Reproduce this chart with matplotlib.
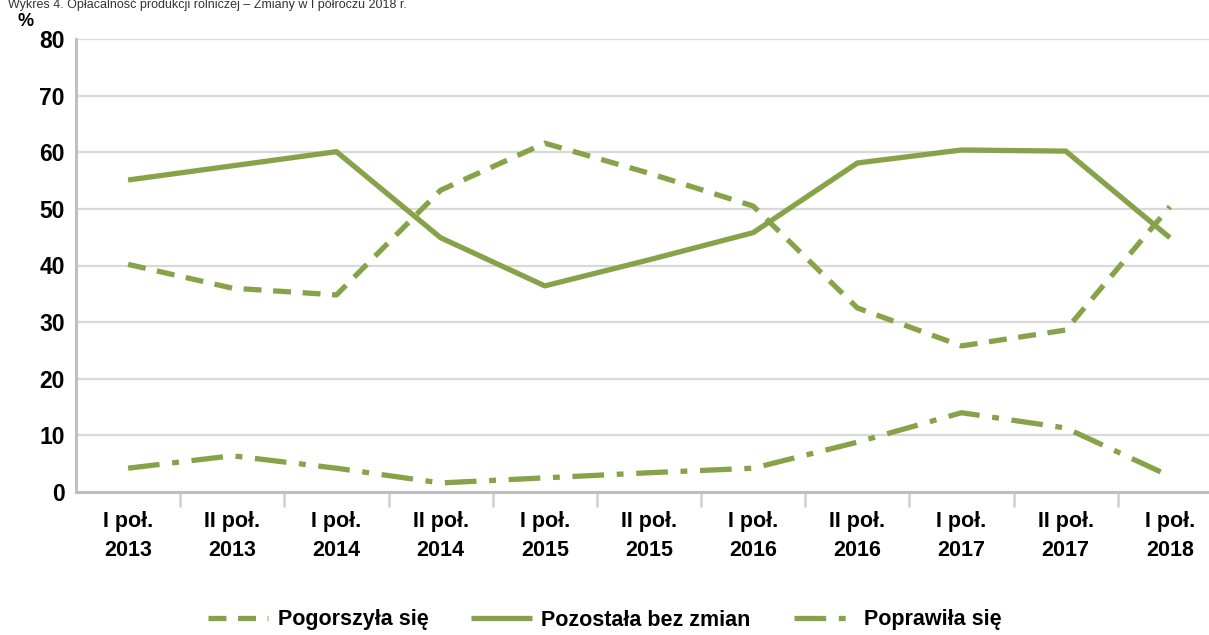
import matplotlib
matplotlib.use('Agg')
import matplotlib.pyplot as plt

# dane
okresy = ['I poł.\n2013', 'II poł.\n2013', 'I poł.\n2014', 'II poł.\n2014', 'I poł.\n2015',
          'II poł.\n2015', 'I poł.\n2016', 'II poł.\n2016', 'I poł.\n2017', 'II poł.\n2017',
          'I poł.\n2018']
pogorszyla = [40.2, 36.0, 34.8, 53.3, 61.6, 56.3, 50.5, 32.5, 25.8, 28.6, 50.4]
bez_zmian = [55.1, 57.6, 60.1, 44.9, 36.4, 41.0, 45.8, 58.1, 60.4, 60.2, 44.9]
poprawila = [4.2, 6.4, 4.2, 1.6, 2.5, 3.4, 4.2, 8.8, 14.0, 11.3, 2.8]

plt.rcParams['font.family'] = ['Liberation Sans Narrow', 'Liberation Sans', 'DejaVu Sans']
kolor = '#86A34A'
szary = '#BFBFBF'

fig = plt.figure(figsize=(12.09, 6.35), dpi=100)
W, H = 1209, 635
ax = fig.add_axes([76 / W, 1 - 492 / H, (1222 - 76) / W, (492 - 39) / H])

x = range(len(okresy))
l1, = ax.plot(x, pogorszyla, color=kolor, lw=3.8, linestyle=(0, (3.4, 2.2)), label='Pogorszyła się')
l2, = ax.plot(x, bez_zmian, color=kolor, lw=3.8, solid_capstyle='butt', label='Pozostała bez zmian')
l3, = ax.plot(x, poprawila, color=kolor, lw=3.8, linestyle=(0, (6.0, 2.4, 1.3, 2.4)), label='Poprawiła się')

ax.set_ylim(0, 80)
ax.set_xlim(-0.5, len(okresy) - 0.5)
ax.set_yticks(range(0, 81, 10))
ax.yaxis.grid(True, color='#D9D9D9', lw=1.6)
ax.set_axisbelow(True)
for s in ['top', 'right']:
    ax.spines[s].set_visible(False)
ax.spines['left'].set_color(szary)
ax.spines['left'].set_linewidth(2.2)
ax.spines['bottom'].set_color(szary)
ax.spines['bottom'].set_linewidth(2.2)

ax.set_xticks([i + 0.5 for i in range(len(okresy) - 1)], minor=False)
ax.set_xticklabels([])
ax.set_xticks(list(x), minor=True)
ax.set_xticklabels(okresy, minor=True, fontsize=15.5, fontweight='bold', linespacing=1.45)
ax.tick_params(axis='x', which='major', length=11, width=1.8, color='#D0D0D0', direction='out')
ax.tick_params(axis='x', which='minor', length=0, pad=14)
ax.tick_params(axis='y', length=0, pad=8, labelsize=16.5)
for t in ax.get_yticklabels():
    t.set_fontweight('bold')

fig.text(18 / W, 1 - 22 / H, '%', fontsize=13, fontweight='bold', ha='left', va='center')
fig.text(8 / W, 1 - 8 / H, 'Wykres 4. Opłacalność produkcji rolniczej – Zmiany w I półroczu 2018 r.',
         fontsize=9, color='#333333', ha='left', va='baseline', family=['Liberation Sans', 'DejaVu Sans'])

leg = fig.legend(handles=[l1, l2, l3], loc='center', bbox_to_anchor=(0.5, 1 - 620 / H), ncol=3,
                 frameon=False, fontsize=15.5, handlelength=2.8, columnspacing=2.0, handletextpad=0.45)
for t in leg.get_texts():
    t.set_fontweight('bold')

fig.savefig('out.png', dpi=100)
